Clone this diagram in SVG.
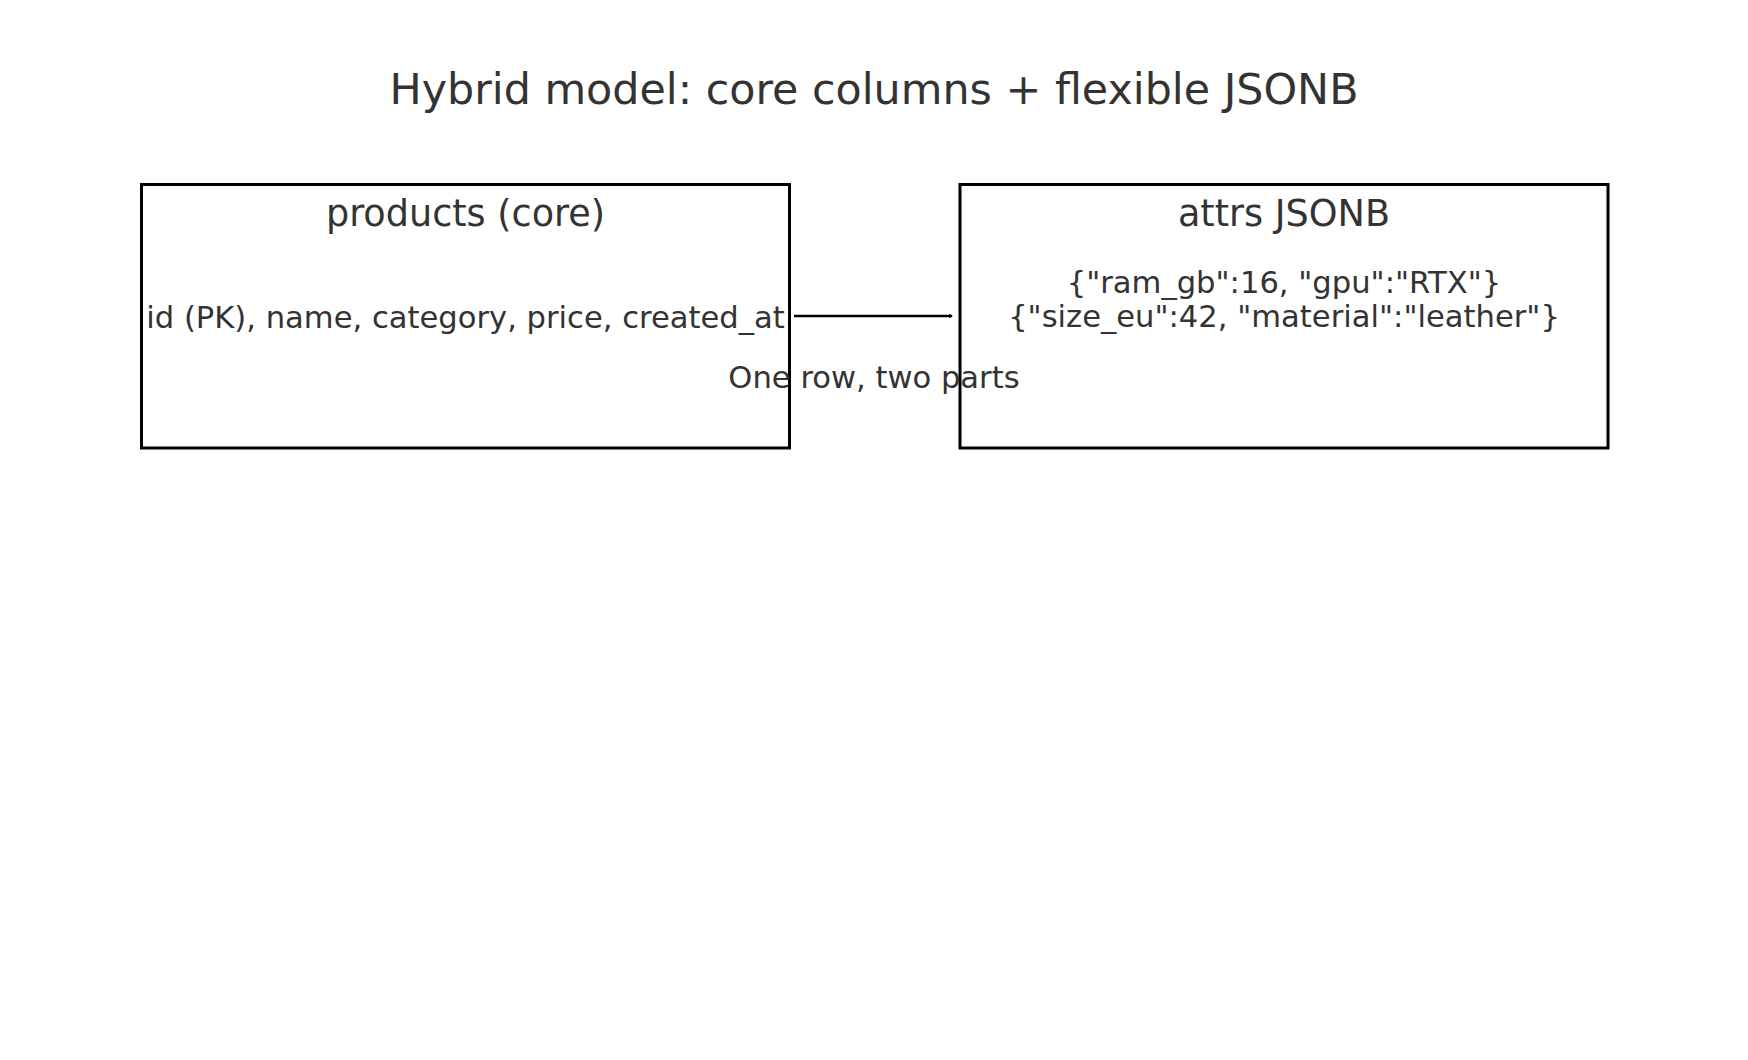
<svg xmlns="http://www.w3.org/2000/svg" width="1748" height="1060" viewBox="0 0 1748 1060">
<style>
text{font-family:"DejaVu Sans",sans-serif;fill:#333333;text-anchor:middle}
.title{font-size:42.8px}
.hdr{font-size:36.6px}
.body{font-size:30.6px}
.box{fill:#ffffff;stroke:#000000;stroke-width:3}
.conn{stroke:#000000;stroke-width:2.5;fill:none}
</style>
<defs>
<marker id="ah" viewBox="0 0 4 4" refX="3" refY="2" markerWidth="4" markerHeight="4" markerUnits="userSpaceOnUse" orient="auto">
<path d="M0,0 L4,2 L0,4 Z" fill="#000000"/>
</marker>
</defs>
<rect width="1748" height="1060" fill="#ffffff"/>
<text class="title" x="874" y="103.5">Hybrid model: core columns + flexible JSONB</text>
<g id="products">
<rect class="box" x="141.5" y="184.5" width="648" height="263.5"/>
<text class="hdr" x="465.5" y="225.5">products (core)</text>
<text class="body" x="465.5" y="327.5">id (PK), name, category, price, created_at</text>
</g>
<g id="attrs">
<rect class="box" x="960" y="184.5" width="648" height="263.5"/>
<text class="hdr" x="1284" y="225.5">attrs JSONB</text>
<text class="body" x="1284" y="293">{"ram_gb":16, "gpu":"RTX"}</text>
<text class="body" x="1284" y="327">{"size_eu":42, "material":"leather"}</text>
</g>
<g id="connectors">
<line class="conn" x1="794" y1="316" x2="952" y2="316" marker-end="url(#ah)"/>
<text class="body" x="874" y="388">One row, two parts</text>
</g>
</svg>
